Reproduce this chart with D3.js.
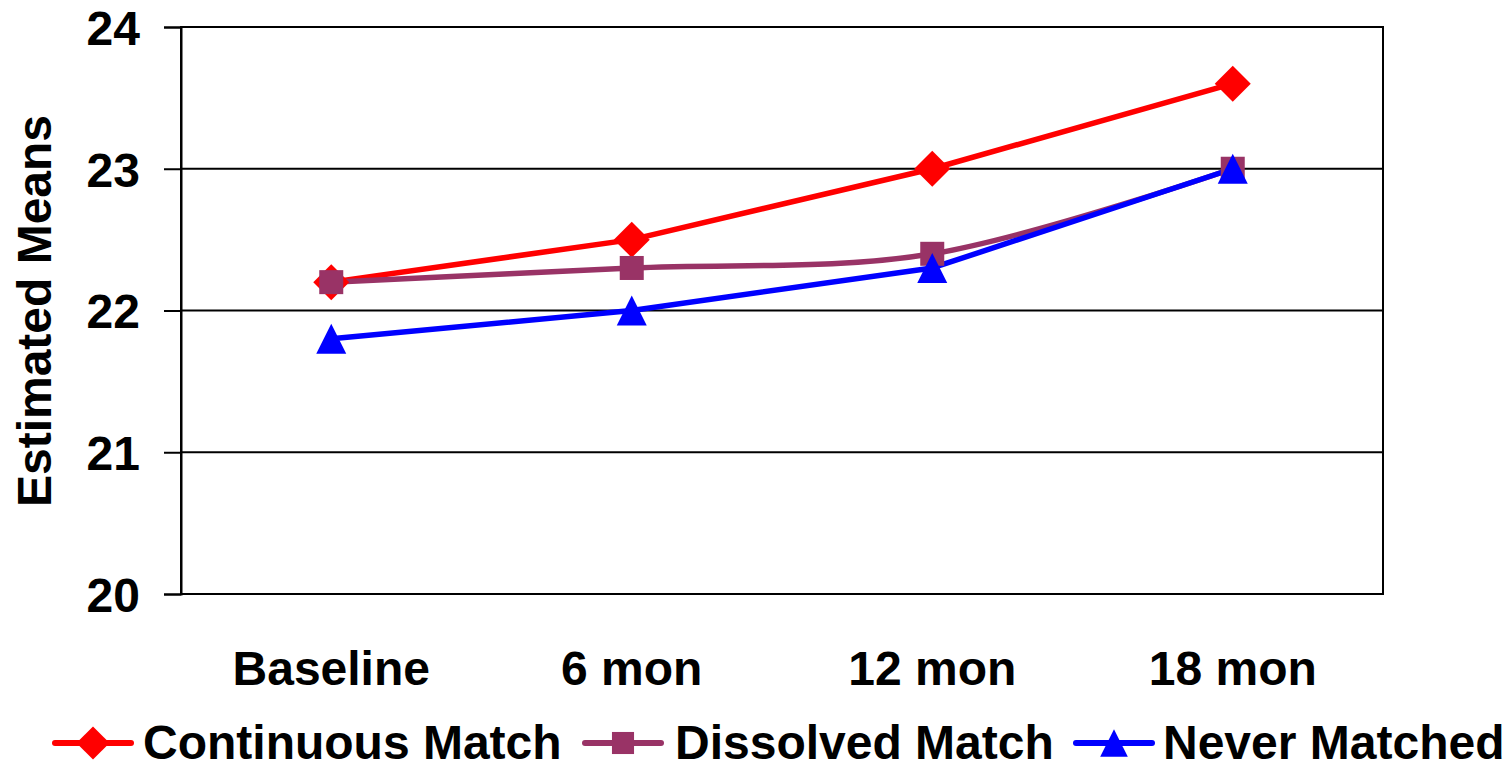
<!DOCTYPE html>
<html>
<head>
<meta charset="utf-8">
<script src="https://cdn.jsdelivr.net/npm/d3@7/dist/d3.min.js"></script>
<style>
  html, body { margin: 0; padding: 0; background: #fff; }
  svg text { font-family: Arial, "Liberation Sans", sans-serif; font-weight: bold; fill: #000; }
</style>
</head>
<body>
<svg id="chart" width="1512" height="770"></svg>
<script>
const categories = ["Baseline", "6 mon", "12 mon", "18 mon"];
const continuousMatch = [22.2, 22.5, 23.0, 23.6];
const dissolvedMatch = [22.2, 22.3, 22.4, 23.0];
const neverMatched = [21.8, 22.0, 22.3, 23.0];
const seriesNames = ["Continuous Match", "Dissolved Match", "Never Matched"];
const yTicks = [20, 21, 22, 23, 24];
const yTitle = "Estimated Means";

const series = [
  { name: seriesNames[0], values: continuousMatch, color: "#FF0000", marker: "diamond", smooth: false },
  { name: seriesNames[1], values: dissolvedMatch, color: "#993366", marker: "square", smooth: true },
  { name: seriesNames[2], values: neverMatched, color: "#0000FF", marker: "triangle", smooth: false }
];

const svg = d3.select("#chart");
const L = 181, R = 1383, T = 27, B = 594;

const x = d3.scaleBand().domain(categories).range([L, R]).padding(0);
const xc = c => x(c) + x.bandwidth() / 2;
const y = d3.scaleLinear().domain([20, 24]).range([B, T]);

// gridlines
svg.append("g").selectAll("line").data(yTicks).join("line")
  .attr("x1", L).attr("x2", R)
  .attr("y1", d => y(d)).attr("y2", d => y(d))
  .attr("stroke", "#000").attr("stroke-width", 2);

// frame
svg.append("rect").attr("x", L).attr("y", T).attr("width", R - L).attr("height", B - T)
  .attr("fill", "none").attr("stroke", "#000").attr("stroke-width", 2);

// y axis
const yAxis = svg.append("g").attr("transform", `translate(${L},0)`)
  .call(d3.axisLeft(y).tickValues(yTicks).tickFormat(d3.format("d")).tickSize(17).tickPadding(24));
yAxis.select(".domain").attr("stroke", "#000").attr("stroke-width", 2);
yAxis.selectAll(".tick line").attr("stroke", "#000").attr("stroke-width", 2);
yAxis.selectAll("text").style("font-size", "48px").attr("dy", "0.36em");

// x axis
const xAxis = svg.append("g").attr("transform", `translate(0,${B})`)
  .call(d3.axisBottom(x).tickSize(0));
xAxis.select(".domain").remove();
xAxis.selectAll("text").style("font-size", "48px").attr("y", 91).attr("dy", 0);

// y title
svg.append("text")
  .attr("transform", `translate(51,311) rotate(-90)`)
  .attr("text-anchor", "middle")
  .style("font-size", "48px")
  .text(yTitle);

// marker drawing
function drawMarker(g, type, cx, cy, color, scale) {
  const s = scale || 1;
  if (type === "diamond") {
    const h = 18 * s;
    g.append("path").attr("d", `M${cx},${cy - h}L${cx + h},${cy}L${cx},${cy + h}L${cx - h},${cy}Z`).attr("fill", color);
  } else if (type === "square") {
    const h = 12 * s;
    g.append("rect").attr("x", cx - h).attr("y", cy - h).attr("width", 2 * h).attr("height", 2 * h).attr("fill", color);
  } else {
    const h = 15 * s;
    g.append("path").attr("d", `M${cx},${cy - h}L${cx + h},${cy + h}L${cx - h},${cy + h}Z`).attr("fill", color);
  }
}

// lines
series.forEach(s => {
  const line = d3.line()
    .x((d, i) => xc(categories[i]))
    .y(d => y(d))
    .curve(s.smooth ? d3.curveCatmullRom.alpha(0) : d3.curveLinear);
  svg.append("path").datum(s.values)
    .attr("d", line)
    .attr("fill", "none")
    .attr("stroke", s.color)
    .attr("stroke-width", 5.5)
    .attr("stroke-linejoin", "round");
});
// markers
series.forEach(s => {
  const g = svg.append("g");
  s.values.forEach((v, i) => drawMarker(g, s.marker, xc(categories[i]), y(v), s.color));
});

// legend
const legendItems = [
  { lineX: 55, textX: 143 },
  { lineX: 585, textX: 675 },
  { lineX: 1076, textX: 1163 }
];
const ly = 743;
series.forEach((s, i) => {
  const it = legendItems[i];
  const g = svg.append("g");
  g.append("line").attr("x1", it.lineX).attr("x2", it.lineX + 76)
    .attr("y1", ly).attr("y2", ly)
    .attr("stroke", s.color).attr("stroke-width", 6).attr("stroke-linecap", "round");
  drawMarker(g, s.marker, it.lineX + 38, ly, s.color, 0.92);
  g.append("text").attr("x", it.textX).attr("y", 759).style("font-size", "48px").text(s.name);
});
</script>
</body>
</html>
